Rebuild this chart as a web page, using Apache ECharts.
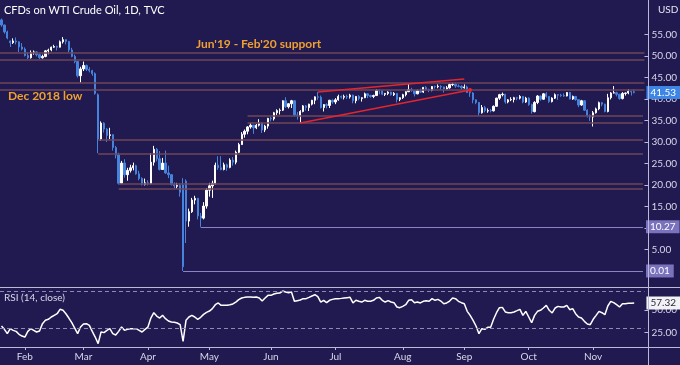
<!DOCTYPE html>
<html><head><meta charset="utf-8">
<script src="https://cdn.jsdelivr.net/npm/echarts@6/dist/echarts.min.js"></script>
<style>html,body{margin:0;padding:0;background:#201a50;}#c{width:680px;height:365px;}</style>
</head><body><div id="c"></div>
<script>
const dates = ['01-22','01-23','01-24','01-27','01-28','01-29','01-30','01-31',
'02-03','02-04','02-05','02-06','02-07','02-10','02-11','02-12','02-13','02-14','02-17','02-18','02-19','02-20','02-21','02-24','02-25','02-26','02-27','02-28',
'03-02','03-03','03-04','03-05','03-06','03-09','03-10','03-11','03-12','03-13','03-16','03-17','03-18','03-19','03-20','03-23','03-24','03-25','03-26','03-27','03-30','03-31',
'04-01','04-02','04-03','04-06','04-07','04-08','04-09','04-13','04-14','04-15','04-16','04-17','04-20','04-21','04-22','04-23','04-24','04-27','04-28','04-29','04-30',
'05-01','05-04','05-05','05-06','05-07','05-08','05-11','05-12','05-13','05-14','05-15','05-18','05-19','05-20','05-21','05-22','05-25','05-26','05-27','05-28','05-29',
'06-01','06-02','06-03','06-04','06-05','06-08','06-09','06-10','06-11','06-12','06-15','06-16','06-17','06-18','06-19','06-22','06-23','06-24','06-25','06-26','06-29','06-30',
'07-01','07-02','07-03','07-06','07-07','07-08','07-09','07-10','07-13','07-14','07-15','07-16','07-17','07-20','07-21','07-22','07-23','07-24','07-27','07-28','07-29','07-30','07-31',
'08-03','08-04','08-05','08-06','08-07','08-10','08-11','08-12','08-13','08-14','08-17','08-18','08-19','08-20','08-21','08-24','08-25','08-26','08-27','08-28','08-31',
'09-01','09-02','09-03','09-04','09-07','09-08','09-09','09-10','09-11','09-14','09-15','09-16','09-17','09-18','09-21','09-22','09-23','09-24','09-25','09-28','09-29','09-30',
'10-01','10-02','10-05','10-06','10-07','10-08','10-09','10-12','10-13','10-14','10-15','10-16','10-19','10-20','10-21','10-22','10-23','10-26','10-27','10-28','10-29','10-30',
'11-02','11-03','11-04','11-05','11-06','11-09','11-10','11-11','11-12','11-13','11-16','11-17','11-18','11-19','11-20',
'11-23','11-24','11-25'];

const monthNames = ['Jan','Feb','Mar','Apr','May','Jun','Jul','Aug','Sep','Oct','Nov','Dec'];

const opens = [58.4,57.2,55.6,53.5,53.1,53.5,53.3,52.1,
51.6,50.1,49.6,50.8,50.95,50.3,49.6,49.9,51.2,51.4,52.05,52.2,52.05,53.3,53.8,53.4,51.4,49.9,48.7,45.4,
47.0,47.8,46.9,46.6,45.9,41.0,30.7,34.4,33.0,31.5,31.7,28.7,26.95,20.4,25.1,22.4,23.4,24.0,24.5,22.6,21.5,20.1,
20.5,20.3,25.3,28.3,26.1,23.6,25.1,22.8,22.4,20.1,19.7,19.9,20.0,20.9,11.6,13.8,16.5,16.9,12.8,12.3,15.1,
18.8,19.8,20.4,24.6,24.0,23.6,24.7,24.1,25.8,25.3,27.6,29.4,31.8,32.5,33.5,33.9,33.3,33.9,34.4,32.8,33.7,
35.5,35.4,36.8,37.3,37.4,39.6,38.2,38.9,39.6,36.3,36.1,37.1,38.4,38.0,38.8,39.7,40.5,40.4,38.0,38.7,38.5,39.7,
39.3,39.8,40.6,40.4,40.6,40.5,40.9,39.6,40.6,40.1,40.3,41.2,40.8,40.6,40.8,42.0,41.9,41.1,41.3,41.6,41.0,41.3,39.9,
40.3,41.0,41.7,42.2,41.95,41.2,41.9,41.6,42.7,42.2,42.0,42.9,42.85,42.95,42.8,42.3,42.6,43.35,43.45,43.0,42.95,
42.6,42.8,41.5,41.4,39.8,39.2,36.8,38.0,37.2,37.35,37.25,38.3,40.2,41.0,41.1,39.3,39.8,39.9,40.3,40.2,40.6,39.3,
40.2,38.7,37.05,39.2,40.7,39.95,41.2,40.6,39.4,40.2,41.0,40.9,40.8,40.7,41.5,40.0,40.6,39.85,38.6,39.6,37.4,36.2,
35.8,36.8,37.7,39.15,38.8,37.1,40.3,41.4,41.45,41.1,40.1,41.3,41.4,41.8,41.7];

const closes = [57.2,55.6,54.2,53.1,53.5,53.3,52.1,51.6,
50.1,49.6,50.8,50.95,50.3,49.6,49.9,51.2,51.4,52.05,52.2,52.05,53.3,53.8,53.4,51.4,49.9,48.7,45.4,47.0,
47.8,46.9,46.6,45.9,41.3,30.7,34.4,33.0,31.5,31.7,28.7,26.95,20.4,25.1,22.4,23.4,24.0,24.5,22.6,21.5,20.1,20.5,
20.3,25.3,28.3,26.1,23.6,25.1,22.8,22.4,20.1,19.8,19.9,18.3,1.0,11.6,13.8,16.5,16.9,12.8,12.3,15.1,18.8,
19.8,20.4,24.6,24.0,23.6,24.7,24.1,25.8,25.3,27.6,29.4,31.8,32.5,33.5,33.9,33.3,33.9,34.4,32.8,33.7,35.5,
35.4,36.8,37.3,37.4,39.6,38.2,38.9,39.6,36.3,36.2,37.1,38.4,38.0,38.8,39.7,40.5,40.4,38.0,38.7,38.5,39.7,39.3,
39.8,40.6,40.4,40.6,40.5,40.9,39.6,40.6,40.1,40.3,41.2,40.8,40.6,40.8,42.0,41.9,41.1,41.3,41.6,41.0,41.3,39.9,40.3,
41.0,41.7,42.2,41.95,41.2,41.9,41.6,42.7,42.2,42.0,42.9,42.85,42.95,42.8,42.3,42.6,43.35,43.45,43.0,42.95,42.6,
42.8,41.5,41.4,39.8,39.2,36.8,38.0,37.3,37.3,37.25,38.3,40.2,41.0,41.1,39.3,39.8,39.9,40.3,40.2,40.6,39.3,40.2,
38.7,37.05,39.2,40.7,39.95,41.2,40.6,39.4,40.2,41.0,40.9,40.8,40.7,41.5,40.0,40.6,39.85,38.6,39.6,37.4,36.2,35.8,
36.8,37.7,39.15,38.8,37.1,40.3,41.4,41.45,41.1,40.1,41.3,41.4,41.8,41.7,41.53];

const highs = [58.7,57.3,55.9,53.6,54.1,54.3,53.4,53.0,
52.0,50.9,51.3,51.3,51.1,50.6,50.3,51.4,51.7,52.2,52.6,52.4,53.6,54.4,53.9,53.5,51.9,50.3,48.9,47.5,
48.7,48.0,47.4,46.8,46.2,41.3,34.8,34.6,33.2,33.3,31.8,29.1,27.5,25.6,26.0,24.0,24.7,25.2,24.7,23.3,21.8,21.5,
21.1,27.4,29.1,28.6,27.9,26.3,28.0,24.5,22.5,20.6,20.5,20.4,21.6,21.3,14.5,17.0,17.5,17.0,13.5,16.0,19.3,
20.5,21.0,25.2,26.7,26.7,25.2,25.0,26.2,26.5,28.0,29.8,32.3,32.9,33.7,34.4,34.0,34.2,35.3,34.6,34.0,35.6,
35.8,37.0,37.6,37.8,39.7,40.4,39.0,39.8,39.7,37.0,37.4,38.6,38.6,38.9,39.8,40.6,41.6,40.8,38.8,39.0,39.8,39.9,
40.2,41.0,40.8,41.0,41.0,41.2,41.0,40.7,40.9,40.4,41.5,41.3,41.0,41.0,42.3,42.3,42.0,41.4,41.8,41.7,41.6,41.3,40.4,
41.2,41.8,43.5,42.6,42.0,42.2,42.4,42.8,43.0,42.4,43.0,43.1,43.4,43.2,42.9,43.0,43.6,43.8,43.8,43.4,43.2,
43.4,43.1,41.8,41.6,39.9,39.3,38.6,38.4,37.8,37.7,38.5,40.3,41.2,41.5,41.2,40.0,40.4,40.5,40.5,40.9,40.7,40.5,
40.4,38.9,39.5,40.9,40.8,41.4,41.6,40.7,40.4,41.3,41.1,41.2,41.3,41.6,41.6,40.8,40.7,39.9,39.8,39.7,37.6,36.4,
37.2,38.0,39.4,39.3,38.9,41.2,41.6,43.0,41.7,41.2,41.6,41.5,42.3,41.9,42.2];

const lows = [56.8,55.2,53.9,52.1,52.8,52.7,50.9,51.3,
49.9,49.3,49.4,50.3,49.9,49.3,49.4,49.7,50.4,51.1,51.9,51.3,52.0,52.9,52.7,50.9,49.7,48.3,45.0,43.8,
46.5,46.5,46.2,45.4,41.0,27.4,30.3,32.2,30.0,30.7,28.0,26.2,20.1,20.2,21.7,21.0,22.9,23.4,22.4,21.1,19.9,19.9,
19.9,20.2,24.5,25.5,23.4,23.5,22.6,21.6,19.9,19.2,19.2,17.3,0.01,6.5,10.3,13.5,15.5,12.0,10.27,12.0,14.5,
17.3,17.0,20.1,23.5,23.4,23.4,23.3,23.9,24.5,24.8,27.4,29.3,31.0,31.8,33.1,31.9,33.0,33.6,32.1,32.3,33.1,
34.8,35.0,36.3,36.4,37.2,37.9,37.8,37.9,35.9,35.2,34.4,36.9,37.3,37.2,38.5,38.8,39.8,37.8,37.1,37.8,37.9,38.9,
38.8,39.6,40.1,39.9,40.0,40.1,39.0,39.0,39.7,39.4,40.2,40.2,40.3,40.2,40.7,41.1,40.9,40.7,40.9,40.8,40.7,39.2,39.5,
40.0,40.6,41.6,41.7,40.6,41.1,41.4,41.4,41.9,41.6,41.8,42.4,42.5,42.1,41.5,42.2,42.4,43.0,42.6,42.7,42.2,
42.4,41.4,40.5,39.0,38.8,36.1,36.6,36.9,36.8,36.9,37.1,38.2,39.8,40.6,38.9,39.0,39.5,39.2,39.7,39.9,39.0,39.1,
38.4,36.6,36.9,38.8,39.6,39.8,40.3,39.1,39.2,40.0,39.8,40.5,40.5,40.6,39.9,39.8,39.6,38.1,38.4,37.2,35.7,34.9,
33.6,36.6,37.4,38.3,36.9,36.9,39.9,41.3,40.6,39.8,39.9,40.8,41.1,40.8,41.3];

const rsi = [32.3,28.7,24.0,29.4,27.6,26.5,23.3,21.4,
20.3,26.5,29.4,27.6,25.8,26.9,34.9,38.5,39.6,42.1,43.9,45.7,50.5,49.4,45.7,41.0,35.9,30.1,24.0,31.2,
34.5,34.9,33.0,26.5,20.3,13.1,25.8,25.1,27.6,29.4,24.0,22.5,26.5,31.2,27.6,28.7,29.4,29.4,29.4,27.6,25.8,28.7,
31.2,41.0,46.8,43.2,41.0,43.9,40.3,37.8,36.7,36.3,35.6,33.8,15.6,38.5,42.1,43.9,42.1,39.6,41.8,45.0,47.2,
48.6,51.2,55.5,57.4,54.8,54.8,54.8,55.5,56.3,58.4,61.0,62.8,63.5,63.9,63.9,63.5,63.9,62.8,59.5,62.8,65.7,
65.7,67.1,67.9,68.2,70.4,69.3,68.6,69.3,59.2,59.9,60.6,62.1,62.1,63.5,65.0,66.4,64.2,58.4,60.3,57.7,60.3,61.3,
62.1,62.1,62.4,62.8,63.2,63.5,57.4,60.3,59.2,58.4,60.3,59.2,59.2,60.3,62.8,63.5,60.3,58.4,59.9,58.4,57.7,53.0,52.3,
53.7,55.5,60.3,61.0,57.7,58.4,57.4,59.2,59.9,59.2,62.1,60.3,61.3,59.5,56.6,57.4,59.5,62.8,62.1,59.2,57.7,
56.6,48.3,43.9,38.5,32.3,24.0,29.4,28.7,30.9,30.9,39.6,46.8,52.3,52.6,47.6,46.8,46.8,47.6,49.0,50.5,43.9,48.3,
42.1,35.9,43.9,48.3,49.4,51.9,54.8,49.4,46.5,51.9,53.7,53.0,53.0,54.8,50.1,51.2,45.7,42.1,41.0,37.4,34.5,33.8,
39.6,43.9,48.3,46.8,44.7,54.1,59.2,57.7,55.5,53.0,56.6,56.6,57.0,57.0,57.32];

const priceTicks = [5,10,15,20,25,30,35,40,45,50,55];
const rsiTicks = [25,50];
const rsiBands = [70,30];
const fullZones = [50.86,49.23,43.88,42.26];
const boxLevels = [36.12,34.49,30.47,27.37,20.23,19.23];
const boxStarts = ['05-20','05-20','03-09','03-09','03-18','03-18'];
const rayLevels = [10.27,0.01];
const rayStarts = ['04-28','04-20'];
const wedgeUpper = [['06-23',41.63],['09-01',44.65]];
const wedgeLower = [['06-15',34.42],['09-03',42.09]];
const lastPrice = 41.53;
const lastRsi = 57.32;

const BG = '#201a50';
const UP = '#ffffff';
const DOWN = '#4583dd';
const ZONE = '#6e4656';
const RAY = '#8a84c4';
const AXIS = '#bcb8d8';
const TXT = '#d8d6ea';
const FONT = 'Lato, "Noto Sans", sans-serif';
const CLEAR = 'rgba(0,0,0,0)';
const lastCat = dates[dates.length - 1];

const candles = opens.map((o, i) => [o, closes[i], lows[i], highs[i]]);

const isMonthStart = (idx) => idx > 0 && dates[idx].slice(0,2) !== dates[idx-1].slice(0,2);

const ml = [];
fullZones.forEach(v => ml.push({yAxis: v, lineStyle: {color: ZONE, width: 1.6, type: 'solid'}, label: {show: false}}));
boxLevels.forEach((v, k) => ml.push([{coord: [boxStarts[k], v], lineStyle: {color: ZONE, width: 1.6, type: 'solid'}, label: {show: false}}, {coord: [lastCat, v]}]));
rayLevels.forEach((v, k) => ml.push([{coord: [rayStarts[k], v], lineStyle: {color: RAY, width: 1, type: 'solid'},
  label: {show: true, position: 'end', distance: 3, formatter: v.toFixed(2), color: '#ffffff', backgroundColor: '#7a72bd', padding: [2,4,1,4], fontSize: 10, fontFamily: FONT}}, {coord: [lastCat, v]}]));
ml.push([{coord: wedgeUpper[0], lineStyle: {color: '#e3262d', width: 1.5, type: 'solid'}, label: {show: false}}, {coord: wedgeUpper[1]}]);
ml.push([{coord: wedgeLower[0], lineStyle: {color: '#e3262d', width: 1.5, type: 'solid'}, label: {show: false}}, {coord: wedgeLower[1], symbol: 'circle', symbolSize: 4}]);
ml.push({yAxis: lastPrice, lineStyle: {color: CLEAR, width: 1}, label: {show: true, position: 'end', distance: 2, formatter: lastPrice.toFixed(2), color: '#ffffff', backgroundColor: '#3d86e6', padding: [2,4,1,4], fontSize: 10, fontFamily: FONT}});

const rsiMl = rsiBands.map(v => ({yAxis: v, lineStyle: {color: '#8e8ab6', width: 1, type: [4,3]}, label: {show: false}}));
rsiMl.push({yAxis: lastRsi, lineStyle: {color: CLEAR, width: 1}, label: {show: true, position: 'end', distance: 2, formatter: lastRsi.toFixed(2), color: '#2a2a3a', backgroundColor: '#f2f2f6', padding: [2,4,1,4], fontSize: 10, fontFamily: FONT}});

const chart = echarts.init(document.getElementById('c'), null, {renderer: 'canvas'});
chart.setOption({
  animation: false,
  backgroundColor: BG,
  textStyle: {fontFamily: FONT},
  grid: [
    {left: 0, right: 32, top: 13, height: 258},
    {left: 0, right: 32, top: 286.8, height: 68.9}
  ],
  xAxis: [
    {type: 'category', gridIndex: 0, data: dates, boundaryGap: true, show: false},
    {type: 'category', gridIndex: 1, data: dates, boundaryGap: true, offset: -8.7,
      axisLine: {show: false},
      axisTick: {show: true, interval: (i) => isMonthStart(i), alignWithLabel: true, length: 3, lineStyle: {color: AXIS}},
      axisLabel: {interval: (i) => isMonthStart(i), formatter: (v) => monthNames[parseInt(v.slice(0,2),10)-1], color: TXT, fontSize: 10, margin: 5, fontFamily: FONT}}
  ],
  yAxis: [
    {type: 'value', gridIndex: 0, position: 'right', min: 0, max: 60, interval: 5, splitLine: {show: false},
      axisLine: {show: false},
      axisTick: {show: true, length: 4, customValues: priceTicks, lineStyle: {color: AXIS}},
      axisLabel: {customValues: priceTicks, formatter: (v) => v.toFixed(2), color: TXT, fontSize: 10, margin: 7, fontFamily: FONT}},
    {type: 'value', gridIndex: 1, position: 'right', min: 0, max: 75, interval: 25, splitLine: {show: false},
      axisLine: {show: false},
      axisTick: {show: true, length: 4, customValues: rsiTicks, lineStyle: {color: AXIS}},
      axisLabel: {customValues: rsiTicks, formatter: (v) => v.toFixed(2), color: TXT, fontSize: 10, margin: 7, fontFamily: FONT}}
  ],
  series: [
    {type: 'candlestick', xAxisIndex: 0, yAxisIndex: 0, data: candles, barWidth: 1.8, clip: false,
      itemStyle: {color: UP, color0: DOWN, borderColor: UP, borderColor0: DOWN, borderWidth: 1},
      markLine: {symbol: 'none', silent: true, animation: false, data: ml}},
    {type: 'line', xAxisIndex: 1, yAxisIndex: 1, data: rsi, symbol: 'none', lineStyle: {color: '#ffffff', width: 1.5},
      markLine: {symbol: 'none', silent: true, animation: false, data: rsiMl}}
  ],
  graphic: [
    {type: 'line', silent: true, z: 50, shape: {x1: 648.5, y1: 0, x2: 648.5, y2: 365}, style: {stroke: AXIS, lineWidth: 1}},
    {type: 'line', silent: true, z: 50, shape: {x1: 0, y1: 287.5, x2: 680, y2: 287.5}, style: {stroke: AXIS, lineWidth: 1}},
    {type: 'line', silent: true, z: 50, shape: {x1: 0, y1: 347.5, x2: 680, y2: 347.5}, style: {stroke: AXIS, lineWidth: 1}},
    {type: 'text', left: 4, top: 5, silent: true, style: {text: 'CFDs on WTI Crude Oil, 1D, TVC', fill: '#ffffff', font: '11px ' + FONT}},
    {type: 'text', left: 658, top: 5, silent: true, style: {text: 'USD', fill: '#e6e4f2', font: '10px ' + FONT}},
    {type: 'text', left: 196, top: 38, silent: true, style: {text: "Jun'19 - Feb'20 support", fill: '#f0a030', font: 'bold 12px ' + FONT}},
    {type: 'text', left: 8, top: 90, silent: true, style: {text: 'Dec 2018 low', fill: '#f0a030', font: 'bold 12px ' + FONT}},
    {type: 'text', left: 4, top: 293, silent: true, style: {text: 'RSI (14, close)', fill: TXT, font: '10px ' + FONT}}
  ]
});
</script>
</body></html>
